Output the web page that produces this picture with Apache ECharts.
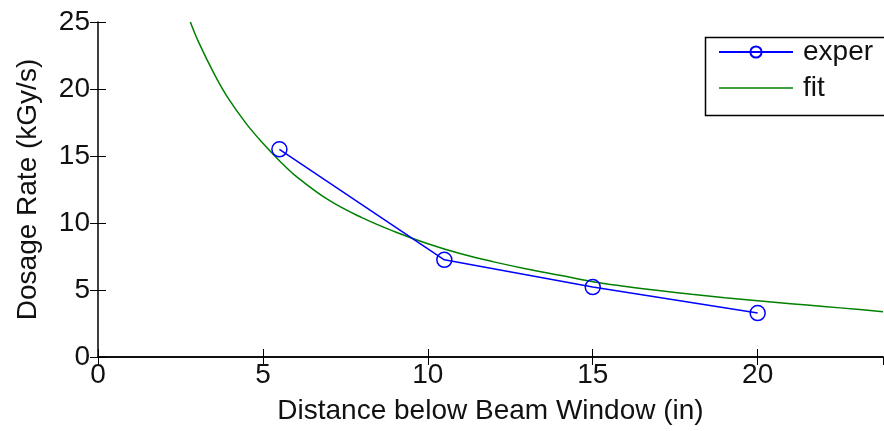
<!DOCTYPE html>
<html>
<head>
<meta charset="utf-8">
<script src="https://cdn.jsdelivr.net/npm/echarts@6/dist/echarts.min.js"></script>
<style>
html,body{margin:0;padding:0;background:#fff;}
#chart{width:884px;height:431px;}
</style>
</head>
<body>
<div id="chart"></div>
<script>
// Data
var experX = [5.5, 10.5, 15.0, 20.0];
var experY = [15.5, 7.25, 5.22, 3.28];

var fitX = [2.8, 3.05, 3.55, 3.95, 4.5, 5.0, 5.5, 6.0, 7.0, 8.0, 9.0, 10.0, 11.0, 12.0, 13.0, 14.0, 15.0, 16.0, 17.0, 18.0, 19.0, 20.0, 21.0, 22.0, 23.0, 23.8];
var fitY = [25.0, 23.5, 21.0, 19.3, 17.4, 15.95, 14.65, 13.5, 11.7, 10.4, 9.35, 8.45, 7.7, 7.1, 6.57, 6.1, 5.62, 5.27, 4.96, 4.68, 4.43, 4.2, 3.98, 3.77, 3.56, 3.38];

var xTicks = [0, 5, 10, 15, 20];
var yTicks = [0, 5, 10, 15, 20, 25];

var seriesNames = ['exper', 'fit'];
var xTitle = 'Distance below Beam Window (in)';
var yTitle = 'Dosage Rate (kGy/s)';

function pairs(xs, ys) { return xs.map(function (x, i) { return [x, ys[i]]; }); }

var FONT = '"Liberation Sans", Arial, sans-serif';
var chart = echarts.init(document.getElementById('chart'), null, {renderer: 'canvas'});

var tickStyle = {show: true, inside: true, length: 8, lineStyle: {color: '#000', width: 1}};
var lineStyle = {show: true, lineStyle: {color: '#000', width: 1.5}};

chart.setOption({
  backgroundColor: '#fff',
  animation: false,
  grid: {left: 98, top: 22, width: 785, height: 335, containLabel: false},
  xAxis: [{
    type: 'value', min: 0, max: 23.8, interval: 5, position: 'bottom',
    axisLine: lineStyle, axisTick: tickStyle, splitLine: {show: false},
    axisLabel: {fontSize: 28, color: '#111', fontFamily: FONT, margin: 4, showMaxLabel: false,
      formatter: function (v) { return xTicks.indexOf(v) >= 0 ? String(v) : ''; }},
    name: xTitle, nameLocation: 'middle', nameGap: 40,
    nameTextStyle: {fontSize: 28, color: '#111', fontFamily: FONT}
  }, {
    type: 'value', min: 0, max: 23.8, interval: 5, position: 'top',
    axisLine: lineStyle, axisTick: tickStyle, axisLabel: {show: false}, splitLine: {show: false}
  }],
  yAxis: [{
    type: 'value', min: 0, max: 25, interval: 5, position: 'left',
    axisLine: lineStyle, axisTick: tickStyle, splitLine: {show: false},
    axisLabel: {fontSize: 28, color: '#111', fontFamily: FONT, margin: 8,
      formatter: function (v) { return yTicks.indexOf(v) >= 0 ? String(v) : ''; }},
    name: yTitle, nameLocation: 'middle', nameGap: 56, nameRotate: 90,
    nameTextStyle: {fontSize: 28, color: '#111', fontFamily: FONT}
  }, {
    type: 'value', min: 0, max: 25, interval: 5, position: 'right',
    axisLine: {show: false}, axisTick: tickStyle, axisLabel: {show: false}, splitLine: {show: false}
  }],
  legend: {
    orient: 'vertical', left: 718, top: 38, itemGap: 8, padding: 0,
    itemWidth: 74, itemHeight: 14,
    data: [{name: seriesNames[0]}, {name: seriesNames[1], icon: 'path://M0,0 L74,0 L74,1.5 L0,1.5 Z'}],
    textStyle: {fontSize: 28, color: '#111', fontFamily: FONT, padding: [0, 0, 0, 5]}
  },
  graphic: [{
    type: 'rect', left: 703, top: 35, z: 100,
    shape: {width: 180, height: 78},
    style: {fill: 'none', stroke: '#000', lineWidth: 1.5}
  }],
  series: [{
    name: seriesNames[0], type: 'line',
    data: pairs(experX, experY),
    symbol: 'circle', symbolSize: 15,
    lineStyle: {color: '#0000ff', width: 1.5},
    itemStyle: {color: 'rgba(255,255,255,0)', borderColor: '#0000ff', borderWidth: 1.5},
    z: 3
  }, {
    name: seriesNames[1], type: 'line',
    data: pairs(fitX, fitY),
    symbol: 'none', smooth: 0.4,
    lineStyle: {color: '#008000', width: 1.5},
    itemStyle: {color: '#008000'},
    z: 2
  }]
});
</script>
</body>
</html>
